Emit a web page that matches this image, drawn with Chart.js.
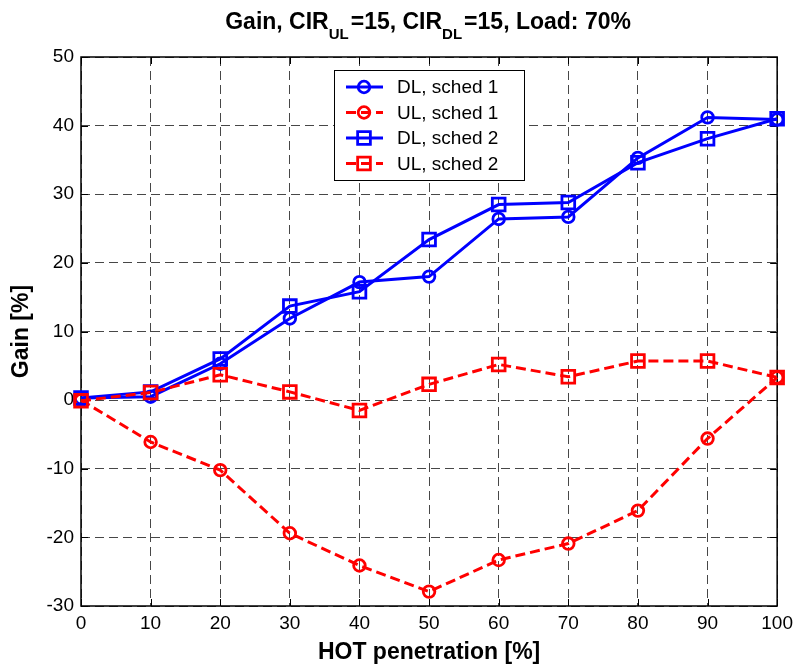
<!DOCTYPE html>
<html><head><meta charset="utf-8">
<script src="https://cdn.jsdelivr.net/npm/chart.js@4.4.0/dist/chart.umd.min.js"></script>
<style>html,body{margin:0;padding:0;background:#fff;}#wrap{width:799px;height:666px;}</style>
</head><body><div id="wrap"><canvas id="c" width="799" height="666"></canvas></div>
<script>
const penetration = [0, 10, 20, 30, 40, 50, 60, 70, 80, 90, 100];
const dlSched1 = [0.3, 0.5, 5.3, 11.9, 17.2, 18.0, 26.4, 26.7, 35.3, 41.2, 40.9];
const ulSched1 = [0.0, -6.1, -10.2, -19.4, -24.1, -27.9, -23.3, -20.9, -16.1, -5.6, 3.3];
const dlSched2 = [0.3, 1.2, 6.0, 13.7, 15.8, 23.4, 28.5, 28.8, 34.6, 38.1, 41.0];
const ulSched2 = [-0.1, 1.1, 3.7, 1.2, -1.5, 2.3, 5.2, 3.4, 5.7, 5.7, 3.3];
const seriesNames = ['DL, sched 1', 'UL, sched 1', 'DL, sched 2', 'UL, sched 2'];
const xTicks = [0, 10, 20, 30, 40, 50, 60, 70, 80, 90, 100];
const yTicks = [-30, -20, -10, 0, 10, 20, 30, 40, 50];
const titleParts = [['Gain, CIR', false], ['UL', true], ['=15, CIR', false], ['DL', true], ['=15, Load: 70%', false]];
const xTitle = 'HOT penetration [%]';
const yTitle = 'Gain [%]';

const BLUE = '#0000ff', RED = '#ff0000';
const FONT = '"Liberation Sans", Arial, sans-serif';

function mk(label, vals, color, dash, style, radius, order) {
  return {
    label, data: penetration.map((x, i) => ({x, y: vals[i]})),
    borderColor: color, borderWidth: 3, borderDash: dash,
    pointStyle: style, pointRadius: radius, pointHoverRadius: radius,
    pointBorderWidth: 2.8, pointBorderColor: color,
    pointBackgroundColor: 'rgba(0,0,0,0)', fill: false, tension: 0,
    clip: false, order
  };
}

const framePlugin = {
  id: 'frame',
  beforeDatasetsDraw(chart) {
    const {ctx, chartArea: a, scales: {x, y}} = chart;
    ctx.save();
    ctx.setLineDash([]);
    ctx.strokeStyle = '#000';
    ctx.lineWidth = 1;
    x.ticks.forEach(t => {
      const px = Math.round(x.getPixelForValue(t.value)) + 0.5;
      ctx.beginPath(); ctx.moveTo(px, a.bottom); ctx.lineTo(px, a.bottom - 7);
      ctx.moveTo(px, a.top); ctx.lineTo(px, a.top + 7); ctx.stroke();
    });
    y.ticks.forEach(t => {
      const py = Math.round(y.getPixelForValue(t.value)) + 0.5;
      ctx.beginPath(); ctx.moveTo(a.left, py); ctx.lineTo(a.left + 7, py);
      ctx.moveTo(a.right, py); ctx.lineTo(a.right - 7, py); ctx.stroke();
    });
    ctx.lineWidth = 1.5;
    ctx.strokeRect(a.left, a.top, a.right - a.left, a.bottom - a.top);
    ctx.restore();
  }
};

const legendPlugin = {
  id: 'mlegend',
  afterDatasetsDraw(chart) {
    const {ctx, chartArea: a} = chart;
    const bx = a.left + 253, by = a.top + 13, bw = 190, bh = 110;
    ctx.save();
    ctx.fillStyle = '#fff';
    ctx.fillRect(bx, by, bw, bh);
    ctx.strokeStyle = '#000'; ctx.lineWidth = 1; ctx.setLineDash([]);
    ctx.strokeRect(bx + 0.5, by + 0.5, bw, bh);
    chart.data.datasets.forEach((ds, i) => {
      const ry = by + 17 + i * 25.5;
      ctx.strokeStyle = ds.borderColor; ctx.lineWidth = ds.borderWidth;
      ctx.setLineDash(ds.borderDash || []);
      ctx.beginPath(); ctx.moveTo(bx + 12, ry); ctx.lineTo(bx + 49, ry); ctx.stroke();
      ctx.setLineDash([]);
      ctx.lineWidth = ds.pointBorderWidth;
      ctx.fillStyle = 'rgba(0,0,0,0)';
      Chart.helpers.drawPoint(ctx, {pointStyle: ds.pointStyle, rotation: 0, radius: ds.pointRadius, borderWidth: ds.pointBorderWidth}, bx + 30, ry);
      ctx.fillStyle = '#000';
      ctx.font = '19px ' + FONT;
      ctx.textBaseline = 'middle'; ctx.textAlign = 'left';
      ctx.fillText(ds.label, bx + 63, ry + 1);
    });
    ctx.restore();
  }
};

const titlePlugin = {
  id: 'mtitle',
  afterDraw(chart) {
    const {ctx, chartArea: a} = chart;
    const big = 'bold 23px ' + FONT, small = 'bold 15px ' + FONT;
    ctx.save();
    let total = 0;
    titleParts.forEach(([t, sub]) => { ctx.font = sub ? small : big; total += ctx.measureText(t).width; });
    let x = (a.left + a.right) / 2 - 3 - total / 2;
    const base = 29;
    ctx.fillStyle = '#000'; ctx.textBaseline = 'alphabetic'; ctx.textAlign = 'left';
    titleParts.forEach(([t, sub]) => {
      ctx.font = sub ? small : big;
      ctx.fillText(t, x, sub ? base + 10 : base);
      x += ctx.measureText(t).width + (sub ? 2 : 0);
    });
    ctx.restore();
  }
};

new Chart(document.getElementById('c'), {
  type: 'line',
  data: {
    datasets: [
      mk(seriesNames[0], dlSched1, BLUE, [], 'circle', 5.8, 3),
      mk(seriesNames[1], ulSched1, RED, [10, 5], 'circle', 5.8, 2),
      mk(seriesNames[2], dlSched2, BLUE, [], 'rect', 9, 1),
      mk(seriesNames[3], ulSched2, RED, [10, 5], 'rect', 9, 0)
    ]
  },
  options: {
    responsive: false, animation: false, devicePixelRatio: 1,
    layout: {padding: {top: 57, right: 21, left: 0, bottom: 0}},
    plugins: {legend: {display: false}, tooltip: {enabled: false}, title: {display: false}},
    scales: {
      x: {
        type: 'linear', min: xTicks[0], max: xTicks[xTicks.length - 1],
        afterBuildTicks: s => { s.ticks = xTicks.map(v => ({value: v})); },
        afterFit: s => { s.height = 60; },
        ticks: {color: '#000', font: {family: FONT, size: 19}, padding: 6, maxRotation: 0, autoSkip: false},
        grid: {color: 'rgba(0,0,0,0.72)', lineWidth: 1, drawTicks: false},
        border: {display: false, dash: [9, 5]},
        title: {display: true, text: xTitle, color: '#000', font: {family: FONT, size: 23, weight: 'bold'}, padding: {top: 0, bottom: 0}}
      },
      y: {
        type: 'linear', min: yTicks[0], max: yTicks[yTicks.length - 1],
        afterBuildTicks: s => { s.ticks = yTicks.map(v => ({value: v})); },
        afterFit: s => { s.width = 81; },
        ticks: {color: '#000', font: {family: FONT, size: 19}, padding: 7},
        grid: {color: 'rgba(0,0,0,0.72)', lineWidth: 1, drawTicks: false},
        border: {display: false, dash: [9, 5]},
        title: {display: true, text: yTitle, color: '#000', font: {family: FONT, size: 23, weight: 'bold'}, padding: {top: 8, bottom: 0}}
      }
    }
  },
  plugins: [framePlugin, legendPlugin, titlePlugin]
});
</script></body></html>
